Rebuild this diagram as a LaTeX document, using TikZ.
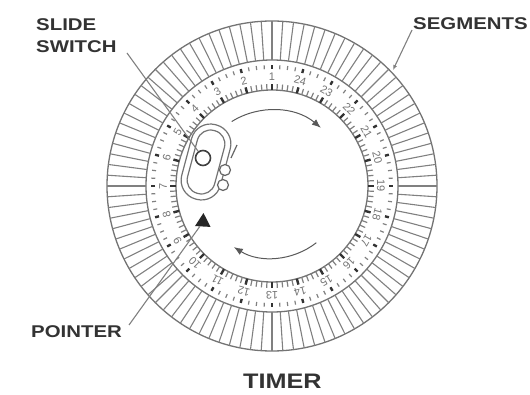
\documentclass[tikz,border=0pt]{standalone}
\usepackage{fontspec}
\setmainfont{Liberation Sans}
\newfontfamily\labelfont[FakeStretch=1.2]{Liberation Sans}
\usetikzlibrary{arrows.meta,positioning,calc,shapes.geometric}

\begin{document}
\begin{tikzpicture}[
  x=1pt,y=1pt,
  rim/.style={draw=black!55,line width=1.3pt},
  segline/.style={draw=black!50,line width=1.1pt},
  tickline/.style={draw=black!50,line width=1.2pt},
  hourtick/.style={draw=black!80,line width=2.4pt},
  hournum/.style={font=\fontsize{11}{11}\selectfont,text=black!55,inner sep=0pt},
  title/.style={font=\labelfont\bfseries\fontsize{17}{22}\selectfont,text=black!80,inner sep=0pt,align=left},
  leader/.style={draw=black!50,line width=1.1pt},
  turn/.style={draw=black!65,line width=1pt},
  capsule/.style={draw=black!55,line width=1.2pt,rectangle,rotate=-15,fill=white},
  stud/.style={circle,draw=black!60,line width=1.2pt,fill=white,minimum size=11pt,inner sep=0pt}
]
  \useasboundingbox (0,0) rectangle (530,394);
  \coordinate (hub) at (272,208);

  % segments
  \draw[rim] (hub) circle (165);
  \draw[rim] (hub) circle (126);
  \draw[rim] (hub) circle (96);
  \foreach \a in {0,3.75,...,356.25}
    \draw[segline] ($(hub)+(\a:126)$) -- ($(hub)+(\a:165)$);

  % scale ring
  \foreach \a in {0,3.75,...,356.25}
    \draw[tickline] ($(hub)+(\a:117)$) -- ($(hub)+(\a:121)$);
  \foreach \a in {0,3,...,357}
    \draw[tickline] ($(hub)+(\a:96)$) -- ($(hub)+(\a:102)$);
  \foreach \h in {1,...,24}{
    \pgfmathsetmacro{\ang}{90+(\h-1)*15}
    \pgfmathsetmacro{\rot}{(\h-1)*15}
    \node[hournum,rotate=\rot] (num\h) at ($(hub)+(\ang:109)$) {\h};
    \draw[hourtick] ($(hub)+(\ang:117)$) -- ($(hub)+(\ang:121)$);
    \draw[hourtick] ($(hub)+(\ang:96)$) -- ($(hub)+(\ang:102)$);
  }

  % slide switch
  \node[capsule,minimum width=40pt,minimum height=77pt,rounded corners=19.5pt] (capout) at (206,232) {};
  \node[capsule,minimum width=28pt,minimum height=65pt,rounded corners=13.5pt] (capin) at (206,232) {};
  \node[circle,draw=black!75,fill=white,line width=1.6pt,minimum size=15pt,inner sep=0pt] (knob) at (203,236) {};
  \node[stud] (studone) at (225,224) {};
  \node[stud] (studtwo) at (223,209) {};
  \coordinate (marktop) at (237,249);
  \coordinate (markbot) at (231,236);
  \draw[draw=black!60,line width=1.2pt] (marktop) -- (markbot);

  % rotation arrows
  \draw[turn,-{Latex[length=9pt,width=7pt]}] ($(hub)+(122:76)$) arc[start angle=122,end angle=50,radius=76];
  \draw[turn,-{Latex[length=9pt,width=7pt]}] ($(hub)+(-52:72)$) arc[start angle=-52,end angle=-122,radius=72];

  % pointer
  \node[regular polygon,regular polygon sides=3,rotate=-3,fill=black!85,minimum size=18pt,inner sep=0pt] (ptr) at (203,172) {};

  % labels
  \node[title,anchor=north west] (swlabel) at (36,376) {SLIDE\\SWITCH};
  \node[title,anchor=north west] (seglabel) at (413,377) {SEGMENTS};
  \node[title,anchor=north west] (ptrlabel) at (31,69) {POINTER};
  \node[title,anchor=north west,font=\labelfont\bfseries\fontsize{21}{22}\selectfont] (timerlabel) at (243,20) {TIMER};

  \coordinate (swfrom) at (127,341);
  \coordinate (segfrom) at (412,364);
  \coordinate (segto) at (393,324);
  \coordinate (ptrfrom) at (129,69);
  \draw[leader] (swfrom) -- (knob);
  \draw[leader,-{Latex[length=5pt,width=4pt]}] (segfrom) -- (segto);
  \draw[leader] (ptrfrom) -- (ptr);
\end{tikzpicture}
\end{document}
